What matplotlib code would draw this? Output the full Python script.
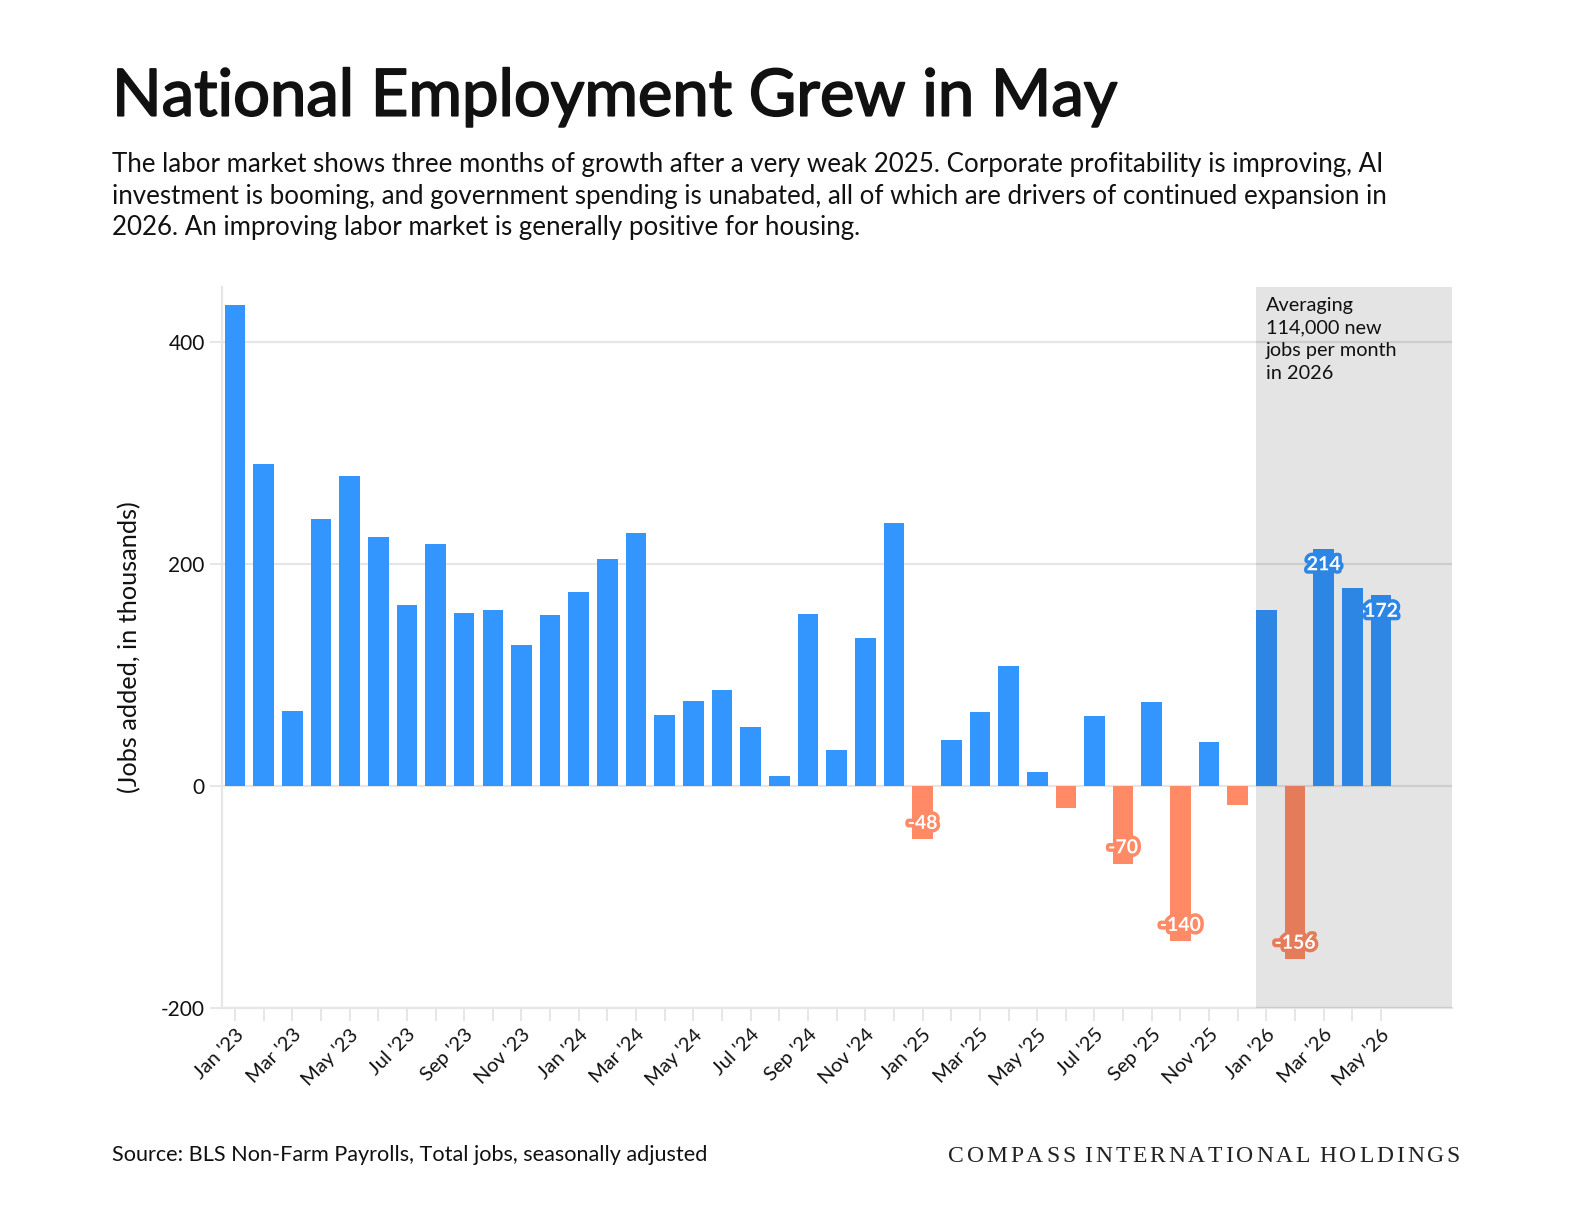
import matplotlib.pyplot as plt
import matplotlib.patheffects as pe
import numpy as np

# ------------------------------------------
# DATA (jobs added, thousands)
# ------------------------------------------
months = [
    "Jan '23", "Feb '23", "Mar '23", "Apr '23", "May '23", "Jun '23",
    "Jul '23", "Aug '23", "Sep '23", "Oct '23", "Nov '23", "Dec '23",
    "Jan '24", "Feb '24", "Mar '24", "Apr '24", "May '24", "Jun '24",
    "Jul '24", "Aug '24", "Sep '24", "Oct '24", "Nov '24", "Dec '24",
    "Jan '25", "Feb '25", "Mar '25", "Apr '25", "May '25", "Jun '25",
    "Jul '25", "Aug '25", "Sep '25", "Oct '25", "Nov '25", "Dec '25",
    "Jan '26", "Feb '26", "Mar '26", "Apr '26", "May '26",
]

jobs = [
    434, 290, 68, 241, 280, 225, 163, 218, 156, 159, 127, 154,
    175, 205, 228, 64, 77, 87, 53, 9, 155, 33, 134, 237,
    -48, 42, 67, 108, 13, -20, 63, -70, 76, -140, 40, -17,
    159, -156, 214, 179, 172,
]

# bars that carry a value label
labelled = ["Jan '25", "Aug '25", "Oct '25", "Feb '26", "Mar '26", "May '26"]

shade_from = "Jan '26"

yticks = [-200, 0, 200, 400]

BLUE = "#3396ff"
ORANGE = "#ff8a65"
GRID = "#e6e6e6"
TEXT = "#111111"

plt.rcParams["font.family"] = ["Lato", "DejaVu Sans"]

fig = plt.figure(figsize=(15.84, 12.24), dpi=100)
ax = fig.add_axes([0.1402, 0.1765, 0.7765, 0.5890])

x = np.arange(len(months))
vals = np.array(jobs)
shade_i = months.index(shade_from)
width = 0.72

colors = [BLUE if v >= 0 else ORANGE for v in vals]
ax.bar(x, vals, width=width, color=colors, zorder=2)

# shaded 2026 band, laid over the bars so they read darker
ax.axvspan(shade_i - width / 2, 42.5, color="black", alpha=0.105,
           lw=0, zorder=3)

ax.set_xlim(-0.45, 42.48)
ax.set_ylim(-200, 450)

# value labels
def darken(hexc, f=0.895):
    r, g, b = [int(hexc[i:i + 2], 16) / 255 for i in (1, 3, 5)]
    return (r * f, g * f, b * f)

for m in labelled:
    i = months.index(m)
    v = vals[i]
    c = BLUE if v >= 0 else ORANGE
    if i >= shade_i:
        c = darken(c)
    dy = -11.5 if v >= 0 else 11.5
    ax.annotate(str(v), (i, v), xytext=(0, dy), textcoords="offset points",
                ha="center", va="center", fontsize=14, fontweight="bold",
                color="white", zorder=5,
                path_effects=[pe.withStroke(linewidth=5, foreground=c)])

ax.text(shade_i - width / 2 + 0.35, 441,
        "Averaging\n114,000 new\njobs per month\nin 2026",
        ha="left", va="top", fontsize=14.3, color=TEXT, linespacing=1.4,
        zorder=6)

# axes styling
ax.set_yticks(yticks)
ax.set_yticklabels([str(t) for t in yticks], fontsize=15, color=TEXT)
ax.grid(axis="y", color=GRID, lw=1.6, zorder=0)
ax.set_xticks(x)
ax.set_xticklabels([m if i % 2 == 0 else "" for i, m in enumerate(months)],
                   rotation=45, ha="right", rotation_mode="anchor",
                   fontsize=14.5, color=TEXT)
ax.tick_params(axis="both", color=GRID, width=1.4, length=9)
ax.tick_params(axis="x", pad=4)
for s in ["top", "right"]:
    ax.spines[s].set_visible(False)
ax.spines["left"].set_color(GRID)
ax.spines["left"].set_linewidth(1.6)
ax.spines["bottom"].set_color(GRID)
ax.spines["bottom"].set_linewidth(1.6)

ax.set_ylabel("(Jobs added, in thousands)", fontsize=18.2, color=TEXT,
              labelpad=14)

# ------------------------------------------
# TITLES
# ------------------------------------------
fig.text(0.0707, 0.9055, "National Employment Grew in May",
         fontsize=46.9, color=TEXT, va="baseline",
         path_effects=[pe.withStroke(linewidth=1.3, foreground=TEXT)])

fig.text(0.0707, 0.876,
         "The labor market shows three months of growth after a very weak "
         "2025. Corporate profitability is improving, AI\n"
         "investment is booming, and government spending is unabated, all "
         "of which are drivers of continued expansion in\n"
         "2026. An improving labor market is generally positive for housing.",
         fontsize=18.6, color=TEXT, va="top", linespacing=1.34)

fig.text(0.0707, 0.0515,
         "Source: BLS Non-Farm Payrolls, Total jobs, seasonally adjusted",
         fontsize=15.6, color=TEXT, va="baseline")

# ------------------------------------------
# LETTER-SPACED WORDMARK
# ------------------------------------------
mark = "COMPASS INTERNATIONAL HOLDINGS"
x0, x1, base = 948, 1460, 1224 - 1162
renderer = fig.canvas.get_renderer()

def w_of(s):
    t = fig.text(0, 0, s, fontsize=17, family="Liberation Serif")
    w = t.get_window_extent(renderer).width
    t.remove()
    return w

space_w = w_of("A A") - w_of("AA")
widths = [space_w if ch == " " else w_of(ch) for ch in mark]
track = (x1 - x0 - sum(widths)) / (len(mark) - 1)
pos = x0
for ch, w in zip(mark, widths):
    if ch != " ":
        fig.text(pos / 1584, base / 1224, ch, fontsize=17,
                 family="Liberation Serif", color="#222222", va="baseline")
    pos += w + track

fig.savefig("out.png", dpi=100, facecolor="white")
